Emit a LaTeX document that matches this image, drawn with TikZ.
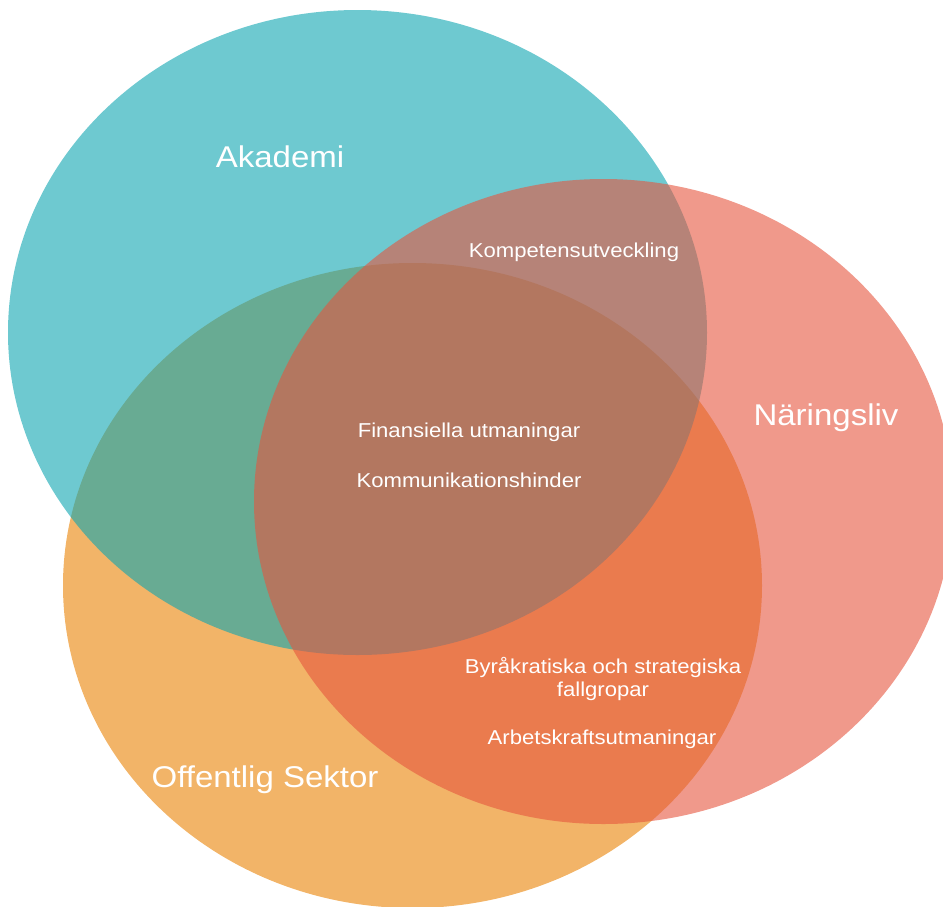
\documentclass[tikz,border=0pt]{standalone}
\usepackage{fontspec}
\setmainfont{Liberation Sans}
\newfontfamily\vennfont[FakeStretch=1.1]{Liberation Sans}
\definecolor{orangeset}{RGB}{242,180,104}
\definecolor{tealset}{RGB}{13,165,177}
\definecolor{salmonset}{RGB}{230,85,62}
\tikzset{
  setshape/.style={draw=none},
  bigtitle/.style={text=white, anchor=base, inner sep=0pt,
    font=\vennfont\fontsize{30}{34}\selectfont},
  issue/.style={text=white, anchor=base, inner sep=0pt, align=center,
    font=\vennfont\fontsize{20.1}{22.6}\selectfont},
}
\begin{document}
\begin{tikzpicture}[x=1pt, y=-1pt]
  \useasboundingbox (0,0) rectangle (943,906);
  \begin{scope}
    \clip (0,0) rectangle (943,906);
    % the three sets, back to front
    \fill[setshape, orangeset] (412.5,585.5) ellipse [x radius=349.5, y radius=322.5];
    \fill[setshape, tealset, fill opacity=0.6] (357.5,332.5) ellipse [x radius=349.5, y radius=322.5];
    \fill[setshape, salmonset, fill opacity=0.6] (603.5,501.5) ellipse [x radius=349.5, y radius=322.5];
  \end{scope}

  % set names
  \node[bigtitle] (akademi) at (280,167.5) {Akademi};
  \node[bigtitle] (naringsliv) at (826,425.5) {Näringsliv};
  \node[bigtitle] (offentlig) at (265,787.5) {Offentlig Sektor};

  % issues in the overlaps
  \node[issue] (kompetens) at (574,257.5) {Kompetensutveckling};
  \node[issue] (finans) at (469,437.5) {Finansiella utmaningar};
  \node[issue] (kommunikation) at (469,487.3) {Kommunikationshinder};
  \node[issue, anchor=north] (byrakrati) at (603,657) {Byråkratiska och strategiska\\fallgropar};
  \node[issue] (arbetskraft) at (602,744.5) {Arbetskraftsutmaningar};
\end{tikzpicture}
\end{document}
